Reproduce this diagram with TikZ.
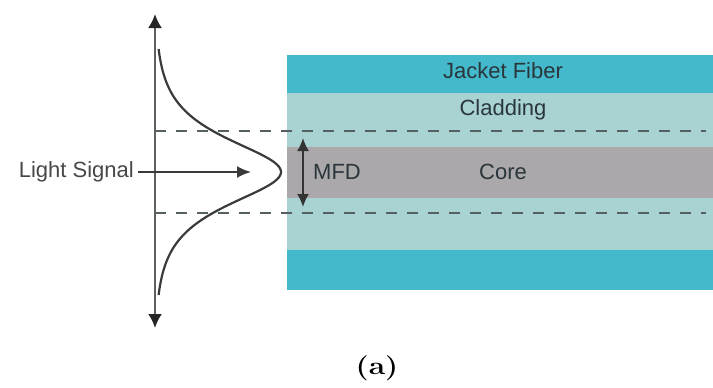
\documentclass[tikz,border=0pt]{standalone}
\usepackage{fontspec}
\setsansfont{Liberation Sans}
\usetikzlibrary{arrows.meta}
\definecolor{jacket}{HTML}{43B9CB}
\definecolor{cladding}{HTML}{A8D3D2}
\definecolor{corecol}{HTML}{ABA8AB}
\definecolor{lbl}{HTML}{2A363B}
\definecolor{linecol}{HTML}{3A3A3A}
\definecolor{axiscol}{HTML}{606060}
\definecolor{dashcol}{HTML}{556060}
\tikzset{
  lbltext/.style={font=\sffamily\fontsize{22}{24}\selectfont, text=lbl, inner sep=0pt},
  dashline/.style={draw=dashcol, line width=2.6pt, dash pattern=on 11pt off 10pt},
  axisline/.style={draw=axiscol, line width=2.2pt, {Latex[length=14pt,width=14pt,fill=black!85,color=black!85]}-{Latex[length=14pt,width=14pt,fill=black!85,color=black!85]}},
  sigarrow/.style={draw=linecol, line width=2pt, -{Latex[length=14pt,width=12pt]}},
  mfdarrow/.style={draw=black!80, line width=2pt, {Latex[length=13pt,width=12pt]}-{Latex[length=13pt,width=12pt]}},
  curveline/.style={draw=linecol, line width=2.2pt},
}
\begin{document}
\begin{tikzpicture}[x=1pt,y=-1pt]
\useasboundingbox (0,0) rectangle (713,388);
% fiber layers
\fill[jacket] (287,55) rectangle (713,93);
\fill[cladding] (287,93) rectangle (713,147);
\fill[corecol] (287,147) rectangle (713,198);
\fill[cladding] (287,198) rectangle (713,250);
\fill[jacket] (287,250) rectangle (713,290);
% labels
\node[lbltext] (jf) at (503,71) {Jacket Fiber};
\node[lbltext] (cl) at (503,110) {Cladding};
\node[lbltext] (co) at (503,172) {Core};
\node[lbltext, anchor=west] (mfd) at (313,172) {MFD};
\node[lbltext, text=black!72, anchor=east] (ls) at (134,172) {Light Signal};
% dashed boundaries
\coordinate (d1a) at (155,131); \coordinate (d1b) at (706,131);
\coordinate (d2a) at (155,213); \coordinate (d2b) at (706,213);
\draw[dashline] (d1a) -- (d1b);
\draw[dashline] (d2a) -- (d2b);
% axis
\coordinate (axt) at (155,14);
\coordinate (axb) at (155,328);
\draw[axisline] (axt) -- (axb);
% gaussian-like profile
\draw[curveline] plot[domain=-123:123, samples=120, variable=\t, smooth]
  ({155+252/(exp(\t/29)+exp(-\t/29))}, {172+\t});
% light signal arrow
\coordinate (sigend) at (251,172);
\draw[sigarrow] (ls.east) ++(4,0) -- (sigend);
% MFD arrow
\coordinate (mt) at (303,138);
\coordinate (mb) at (303,207);
\draw[mfdarrow] (mt) -- (mb);
% caption
\node[inner sep=0pt] (cap) at (377,368) {\scalebox{1.2}[1]{\fontsize{25}{27}\selectfont\bfseries\rmfamily (a)}};
\end{tikzpicture}
\end{document}
